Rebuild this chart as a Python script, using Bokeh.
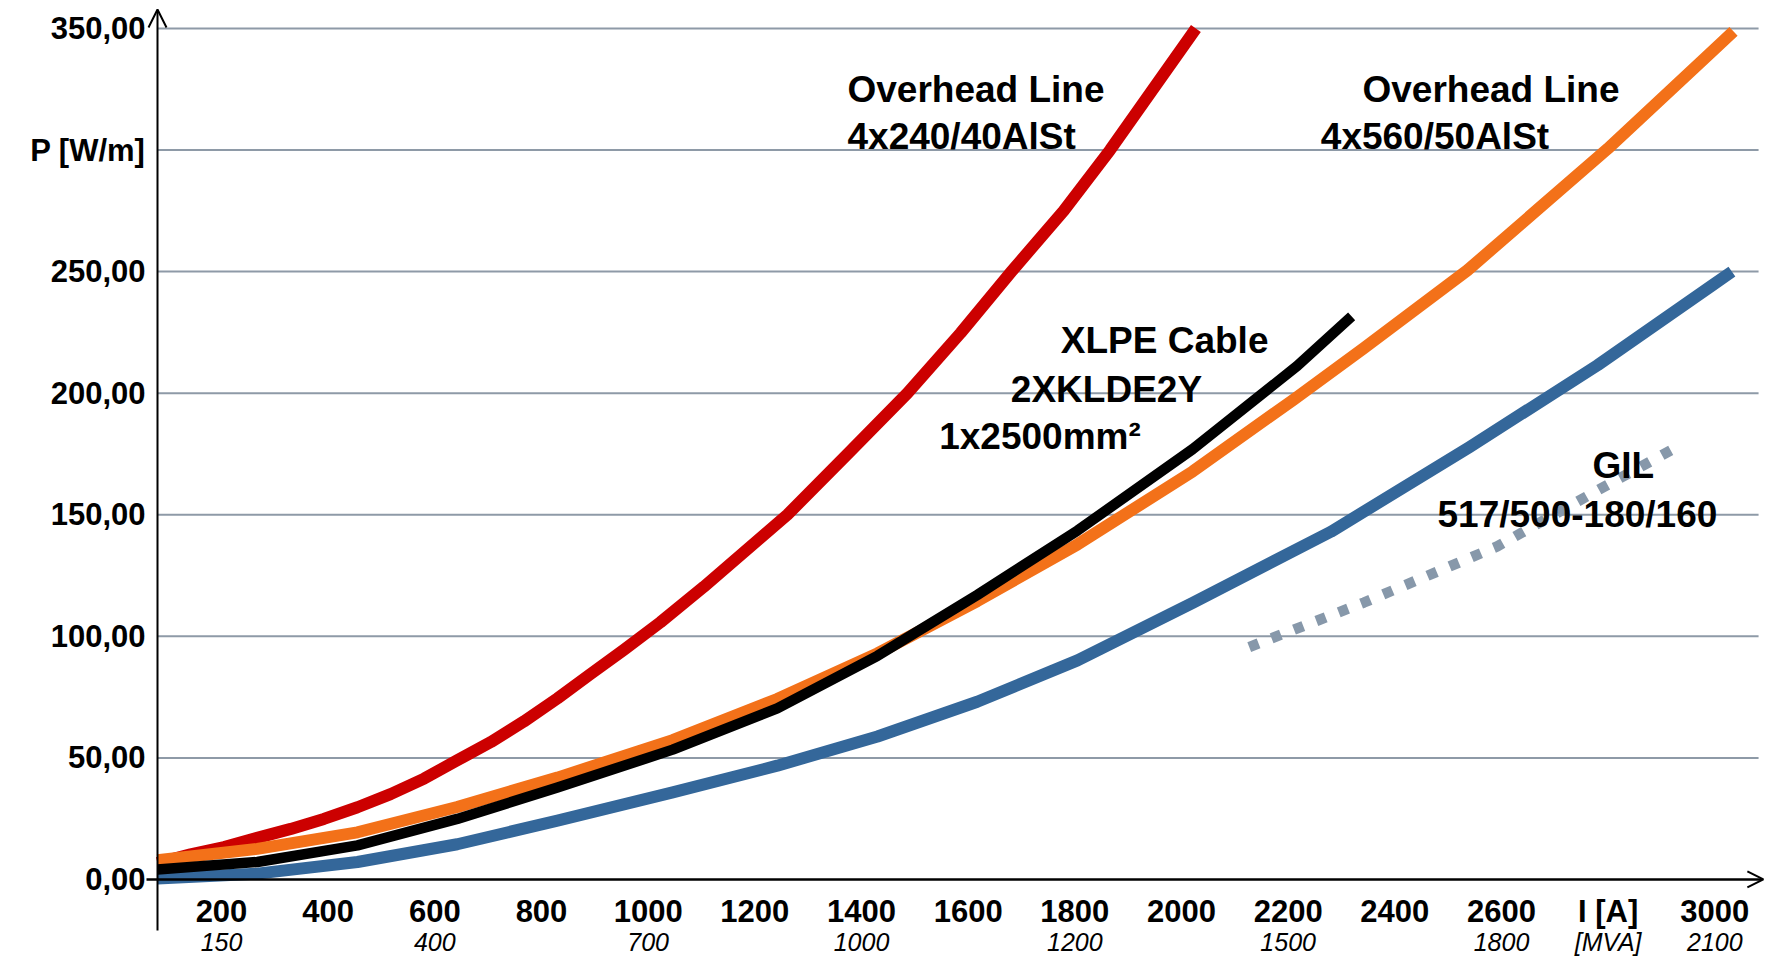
from bokeh.plotting import figure
from bokeh.models import LinearAxis, FixedTicker, Arrow, OpenHead
from bokeh.core.properties import value
from bokeh.embed import file_html
from bokeh.resources import INLINE

# ---- data (current I in A, losses P in W/m) ----
ohl240_I = [80, 142, 205, 267, 330, 392, 455, 517, 580, 642, 705, 767, 830, 892, 955,
            1023, 1104, 1261, 1373, 1486, 1586, 1681, 1779, 1866, 2027]
ohl240_P = [6.8, 10.3, 13.3, 17.1, 20.8, 24.9, 29.7, 35.1, 41.5, 49.0, 56.5, 65.0, 74.5, 84.5, 94.5,
            105.8, 120.3, 150.0, 174.8, 200.0, 224.8, 250.0, 275.0, 300.0, 350.0]

ohl560_I = [80, 267, 455, 642, 830, 1046, 1242, 1430, 1617, 1805, 2021, 2211, 2342, 2536, 2799, 2996, 3035]
ohl560_P = [7.9, 12.6, 19.4, 29.8, 41.9, 57.3, 74.2, 93.0, 114.5, 137.8, 167.8, 197.5, 218.5, 250.5, 300.5, 340.8, 348.8]

xlpe_I = [80, 267, 455, 642, 830, 1046, 1242, 1430, 1617, 1805, 2021, 2217, 2319]
xlpe_P = [4.1, 7.2, 14.0, 24.9, 37.8, 53.4, 70.4, 92.0, 117.0, 143.5, 177.0, 211.2, 231.6]

blue_I = [80, 267, 455, 642, 830, 1046, 1242, 1430, 1617, 1805, 2021, 2280, 2540, 2780, 2996, 3032]
blue_P = [0.4, 2.4, 7.2, 14.5, 24.2, 35.8, 46.8, 58.8, 73.1, 90.1, 113.8, 143.0, 177.8, 211.5, 244.5, 250.0]

gil_I = [2127, 2342, 2592, 2780, 2923]
gil_P = [95.6, 113.9, 137.0, 160.0, 177.2]

y_ticks = [0, 50, 100, 150, 200, 250, 300, 350]
y_tick_labels = ["0,00", "50,00", "100,00", "150,00", "200,00", "250,00", "P [W/m]", "350,00"]
grid_values = [50, 100, 150, 200, 250, 300, 350]

x_ticks = [200, 400, 600, 800, 1000, 1200, 1400, 1600, 1800, 2000, 2200, 2400, 2600, 2800, 3000]
x_tick_labels = ["200", "400", "600", "800", "1000", "1200", "1400", "1600", "1800",
                 "2000", "2200", "2400", "2600", "I [A]", "3000"]

mva_ticks = [200, 600, 1000, 1400, 1800, 2200, 2600, 2800, 3000]
mva_labels = ["150", "400", "700", "1000", "1200", "1500", "1800", "[MVA]", "2100"]

FONT = "Liberation Sans"

p = figure(width=1765, height=958, x_range=(57.5, 3095), y_range=(-32.5, 361.5),
           output_backend="svg", toolbar_location=None,
           x_axis_location=None, y_axis_location=None,
           min_border_left=145, min_border_right=0, min_border_top=0, min_border_bottom=0)
p.outline_line_color = None
p.background_fill_color = "white"
p.border_fill_color = "white"
p.xgrid.grid_line_color = None
p.ygrid.grid_line_color = None

# y axis (labels only; the line is drawn as an arrow)
yax = LinearAxis(ticker=FixedTicker(ticks=y_ticks),
                 major_label_overrides=dict(zip(y_ticks, y_tick_labels)),
                 axis_line_color=None, major_tick_line_color=None, minor_tick_line_color=None,
                 major_tick_out=0, major_tick_in=0, major_label_standoff=0,
                 major_label_text_font=FONT, major_label_text_font_style="bold",
                 major_label_text_font_size="31px", major_label_text_color="black")
p.add_layout(yax, "left")

# x axis at P = 0 (current in A)
xax = LinearAxis(fixed_location=0, ticker=FixedTicker(ticks=x_ticks),
                 major_label_overrides=dict(zip(x_ticks, x_tick_labels)),
                 axis_line_color=None, major_tick_line_color=None, minor_tick_line_color=None,
                 major_tick_out=0, major_tick_in=0, major_label_standoff=15,
                 major_label_text_font=FONT, major_label_text_font_style="bold",
                 major_label_text_font_size="31px", major_label_text_color="black")
p.add_layout(xax, "below")

# secondary labels (MVA)
mvax = LinearAxis(fixed_location=0, ticker=FixedTicker(ticks=mva_ticks),
                  major_label_overrides=dict(zip(mva_ticks, mva_labels)),
                  axis_line_color=None, major_tick_line_color=None, minor_tick_line_color=None,
                  major_tick_out=0, major_tick_in=0, major_label_standoff=49,
                  major_label_text_font=FONT, major_label_text_font_style="italic",
                  major_label_text_font_size="25px", major_label_text_color="black")
p.add_layout(mvax, "below")

# horizontal grid lines
n = len(grid_values)
p.segment(x0=[80] * n, y0=grid_values, x1=[3082] * n, y1=grid_values,
          line_color="#8E9AA7", line_width=2)

# axis lines with arrow heads
p.add_layout(Arrow(end=OpenHead(size=18, line_width=2, line_color="black"),
                   x_start=80, y_start=-21.0, x_end=80, y_end=357.8,
                   line_width=2, line_color="black"))
p.add_layout(Arrow(end=OpenHead(size=16, line_width=2, line_color="black"),
                   x_start=59.4, y_start=0, x_end=3091, y_end=0,
                   line_width=2.5, line_color="black"))

# curves
p.line(blue_I, blue_P, line_color="#34679A", line_width=12, line_join="round")
p.line(ohl240_I, ohl240_P, line_color="#CC0000", line_width=12, line_join="round")
p.line(ohl560_I, ohl560_P, line_color="#F37119", line_width=12, line_join="round")
p.line(xlpe_I, xlpe_P, line_color="black", line_width=10.5, line_join="round")
p.line(gil_I, gil_P, line_color="#8798AA", line_width=10.5, line_dash="10 14")

# annotations
p.text(x=[1373.7, 1373.7, 2339.4, 2261.2, 1773.7, 1680, 1545.7, 2770.6, 2480],
       y=[325.1, 305.5, 325.1, 305.5, 221.5, 201.7, 182.0, 170.4, 150.0],
       text=["Overhead Line", "4x240/40AlSt", "Overhead Line", "4x560/50AlSt",
             "XLPE Cable", "2XKLDE2Y", "1x2500mm²", "GIL", "517/500-180/160"],
       text_font=value(FONT), text_font_style="bold", text_font_size="37px",
       text_align="left", text_baseline="alphabetic", text_color="black")

open("out.html", "w").write(file_html(p, INLINE))
